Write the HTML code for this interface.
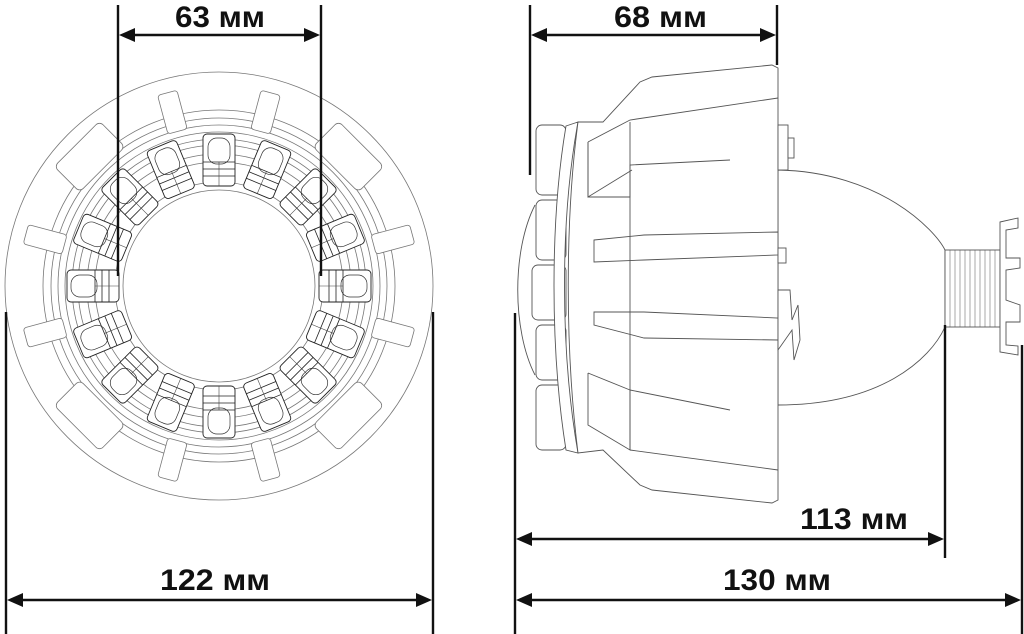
<!DOCTYPE html>
<html><head><meta charset="utf-8"><style>
html,body{margin:0;padding:0;background:#fff;}
svg{display:block;}
text{font-family:"Liberation Sans",sans-serif;font-weight:bold;fill:#111;}
</style></head><body>
<svg width="1024" height="634" viewBox="0 0 1024 634" xmlns="http://www.w3.org/2000/svg">
<defs>
<g id="led">
  <rect x="-26" y="-16" width="52" height="32" rx="4" fill="#fff" stroke="#222" stroke-width="0.9"/>
  <rect x="-22" y="-11" width="26" height="22" rx="9" fill="none" stroke="#333" stroke-width="0.7"/>
  <line x1="2" y1="-16" x2="2" y2="16" stroke="#222" stroke-width="0.8"/>
  <line x1="9" y1="-16" x2="9" y2="16" stroke="#222" stroke-width="0.8"/>
  <line x1="16" y1="-16" x2="16" y2="16" stroke="#222" stroke-width="0.8"/>
  <line x1="2" y1="0" x2="26" y2="0" stroke="#444" stroke-width="0.6"/>
</g>
<g id="tab">
  <rect x="-10" y="-20" width="20" height="40" rx="3" fill="#fff" stroke="#777" stroke-width="0.8"/>
</g>
</defs>

<!-- LEFT VIEW -->
<g fill="none" stroke="#777" stroke-width="0.8">
  <circle cx="219" cy="286" r="214"/>
  <circle cx="219" cy="286" r="176"/>
  <circle cx="219" cy="286" r="168"/>
  <circle cx="219" cy="286" r="161"/>
  <circle cx="219" cy="286" r="154"/>
  <circle cx="219" cy="286" r="147"/>
  <circle cx="219" cy="286" r="141"/>
  <circle cx="219" cy="286" r="132"/>
  <circle cx="219" cy="286" r="124"/>
  <circle cx="219" cy="286" r="104"/>
  <circle cx="219" cy="286" r="96"/>
</g>
<g>
  <g transform="translate(219 286) rotate(-15) translate(0 -180)"><use href="#tab"/></g>
  <g transform="translate(219 286) rotate(15) translate(0 -180)"><use href="#tab"/></g>
  <g transform="translate(219 286) rotate(75) translate(0 -180)"><use href="#tab"/></g>
  <g transform="translate(219 286) rotate(105) translate(0 -180)"><use href="#tab"/></g>
  <g transform="translate(219 286) rotate(165) translate(0 -180)"><use href="#tab"/></g>
  <g transform="translate(219 286) rotate(195) translate(0 -180)"><use href="#tab"/></g>
  <g transform="translate(219 286) rotate(255) translate(0 -180)"><use href="#tab"/></g>
  <g transform="translate(219 286) rotate(285) translate(0 -180)"><use href="#tab"/></g>
  <g transform="translate(219 286) rotate(45) translate(0 -185)"><rect x="-32" y="-16" width="64" height="36" rx="5" fill="#fff" stroke="#777" stroke-width="0.8"/></g>
  <g transform="translate(219 286) rotate(135) translate(0 -185)"><rect x="-32" y="-16" width="64" height="36" rx="5" fill="#fff" stroke="#777" stroke-width="0.8"/></g>
  <g transform="translate(219 286) rotate(225) translate(0 -185)"><rect x="-32" y="-16" width="64" height="36" rx="5" fill="#fff" stroke="#777" stroke-width="0.8"/></g>
  <g transform="translate(219 286) rotate(315) translate(0 -185)"><rect x="-32" y="-16" width="64" height="36" rx="5" fill="#fff" stroke="#777" stroke-width="0.8"/></g>
</g>
<g>
  <g transform="translate(219 286) rotate(0) translate(-126 0)"><use href="#led"/></g>
  <g transform="translate(219 286) rotate(22.5) translate(-126 0)"><use href="#led"/></g>
  <g transform="translate(219 286) rotate(45) translate(-126 0)"><use href="#led"/></g>
  <g transform="translate(219 286) rotate(67.5) translate(-126 0)"><use href="#led"/></g>
  <g transform="translate(219 286) rotate(90) translate(-126 0)"><use href="#led"/></g>
  <g transform="translate(219 286) rotate(112.5) translate(-126 0)"><use href="#led"/></g>
  <g transform="translate(219 286) rotate(135) translate(-126 0)"><use href="#led"/></g>
  <g transform="translate(219 286) rotate(157.5) translate(-126 0)"><use href="#led"/></g>
  <g transform="translate(219 286) rotate(180) translate(-126 0)"><use href="#led"/></g>
  <g transform="translate(219 286) rotate(202.5) translate(-126 0)"><use href="#led"/></g>
  <g transform="translate(219 286) rotate(225) translate(-126 0)"><use href="#led"/></g>
  <g transform="translate(219 286) rotate(247.5) translate(-126 0)"><use href="#led"/></g>
  <g transform="translate(219 286) rotate(270) translate(-126 0)"><use href="#led"/></g>
  <g transform="translate(219 286) rotate(292.5) translate(-126 0)"><use href="#led"/></g>
  <g transform="translate(219 286) rotate(315) translate(-126 0)"><use href="#led"/></g>
  <g transform="translate(219 286) rotate(337.5) translate(-126 0)"><use href="#led"/></g>
</g>

<!-- RIGHT VIEW -->
<g fill="#fff" stroke="#555" stroke-width="0.9">
  <path d="M778 170 C 880 172 935 230 945 250 L945 327 C 930 360 880 405 778 405 Z"/>
  <rect x="945" y="250" width="55" height="77"/>
  <g stroke-width="0.5">
    <path d="M950 250 V327 M955 250 V327 M960 250 V327 M965 250 V327 M970 250 V327 M975 250 V327 M980 250 V327 M985 250 V327 M990 250 V327 M995 250 V327"/>
  </g>
  <path d="M1000 222 L1018 218 L1018 228 L1006 230 L1006 258 L1020 258 L1020 268 L1006 270 L1006 300 L1020 305 L1020 322 L1006 322 L1006 345 L1018 346 L1018 355 L1000 352 Z"/>
  <path d="M535 205 C 512 250 512 330 535 375" fill="none"/>
  <rect x="536" y="125" width="30" height="70" rx="6"/>
  <rect x="536" y="200" width="30" height="60" rx="6"/>
  <rect x="532" y="265" width="34" height="55" rx="6"/>
  <rect x="536" y="325" width="30" height="55" rx="6"/>
  <rect x="536" y="385" width="30" height="65" rx="6"/>
  <path d="M566 126 L578 122 C 560 220 560 350 578 453 L566 450 C 550 350 550 220 566 126 Z"/>
  <path d="M578 122 L603 122 L640 82 L652 77 L772 65 L778 68 L778 500 L772 503 L652 490 L640 485 L603 450 L578 453 C 565 350 565 220 578 122 Z"/>
  <path d="M588 142 L630 120 L778 98" fill="none"/>
  <path d="M588 142 L588 197 L630 197 L630 165 L730 160" fill="none"/>
  <path d="M588 142 L588 197 L632 170" fill="none"/>
  <path d="M594 240 L644 235 L778 232 L778 255 L644 260 L594 262 Z"/>
  <path d="M594 312 L644 312 L778 318 L778 340 L644 338 L594 325 Z"/>
  <path d="M588 373 L588 425 L630 450 L630 390 L588 373" fill="none"/>
  <path d="M630 390 L730 410" fill="none"/>
  <path d="M630 450 L778 470" fill="none"/>
  <line x1="630" y1="122" x2="630" y2="450"/>
  <rect x="778" y="125" width="10" height="45"/>
  <rect x="788" y="138" width="6" height="20"/>
  <rect x="778" y="248" width="8" height="15"/>
  <path d="M778 290 L790 290 L792 320 L798 305 L800 340 L794 360 L792 330 L778 350 Z"/>
</g>

<!-- DIMENSIONS -->
<g stroke="#111" stroke-width="2.4" fill="none">
  <line x1="118" y1="5" x2="118" y2="276"/>
  <line x1="321" y1="5" x2="321" y2="276"/>
  <line x1="133" y1="35" x2="306" y2="35"/>
  <line x1="6" y1="312" x2="6" y2="634"/>
  <line x1="433" y1="312" x2="433" y2="634"/>
  <line x1="21" y1="600" x2="418" y2="600"/>
  <line x1="530" y1="5" x2="530" y2="175"/>
  <line x1="777" y1="5" x2="777" y2="65"/>
  <line x1="545" y1="35" x2="762" y2="35"/>
  <line x1="515" y1="313" x2="515" y2="634"/>
  <line x1="945" y1="325" x2="945" y2="558"/>
  <line x1="1022" y1="345" x2="1022" y2="634"/>
  <line x1="530" y1="539" x2="930" y2="539"/>
  <line x1="530" y1="600" x2="1007" y2="600"/>
</g>
<g fill="#111">
  <polygon points="119,35 135,28 135,42"/>
  <polygon points="320,35 304,28 304,42"/>
  <polygon points="7,600 23,593 23,607"/>
  <polygon points="432,600 416,593 416,607"/>
  <polygon points="531,35 547,28 547,42"/>
  <polygon points="776,35 760,28 760,42"/>
  <polygon points="516,539 532,532 532,546"/>
  <polygon points="944,539 928,532 928,546"/>
  <polygon points="516,600 532,593 532,607"/>
  <polygon points="1021,600 1005,593 1005,607"/>
</g>
<text x="175" y="27" font-size="30" textLength="90" lengthAdjust="spacingAndGlyphs">63 мм</text>
<text x="160" y="590" font-size="30" textLength="110" lengthAdjust="spacingAndGlyphs">122 мм</text>
<text x="614" y="27" font-size="30" textLength="93" lengthAdjust="spacingAndGlyphs">68 мм</text>
<text x="800" y="529" font-size="30" textLength="108" lengthAdjust="spacingAndGlyphs">113 мм</text>
<text x="723" y="590" font-size="30" textLength="108" lengthAdjust="spacingAndGlyphs">130 мм</text>
</svg>
</body></html>
